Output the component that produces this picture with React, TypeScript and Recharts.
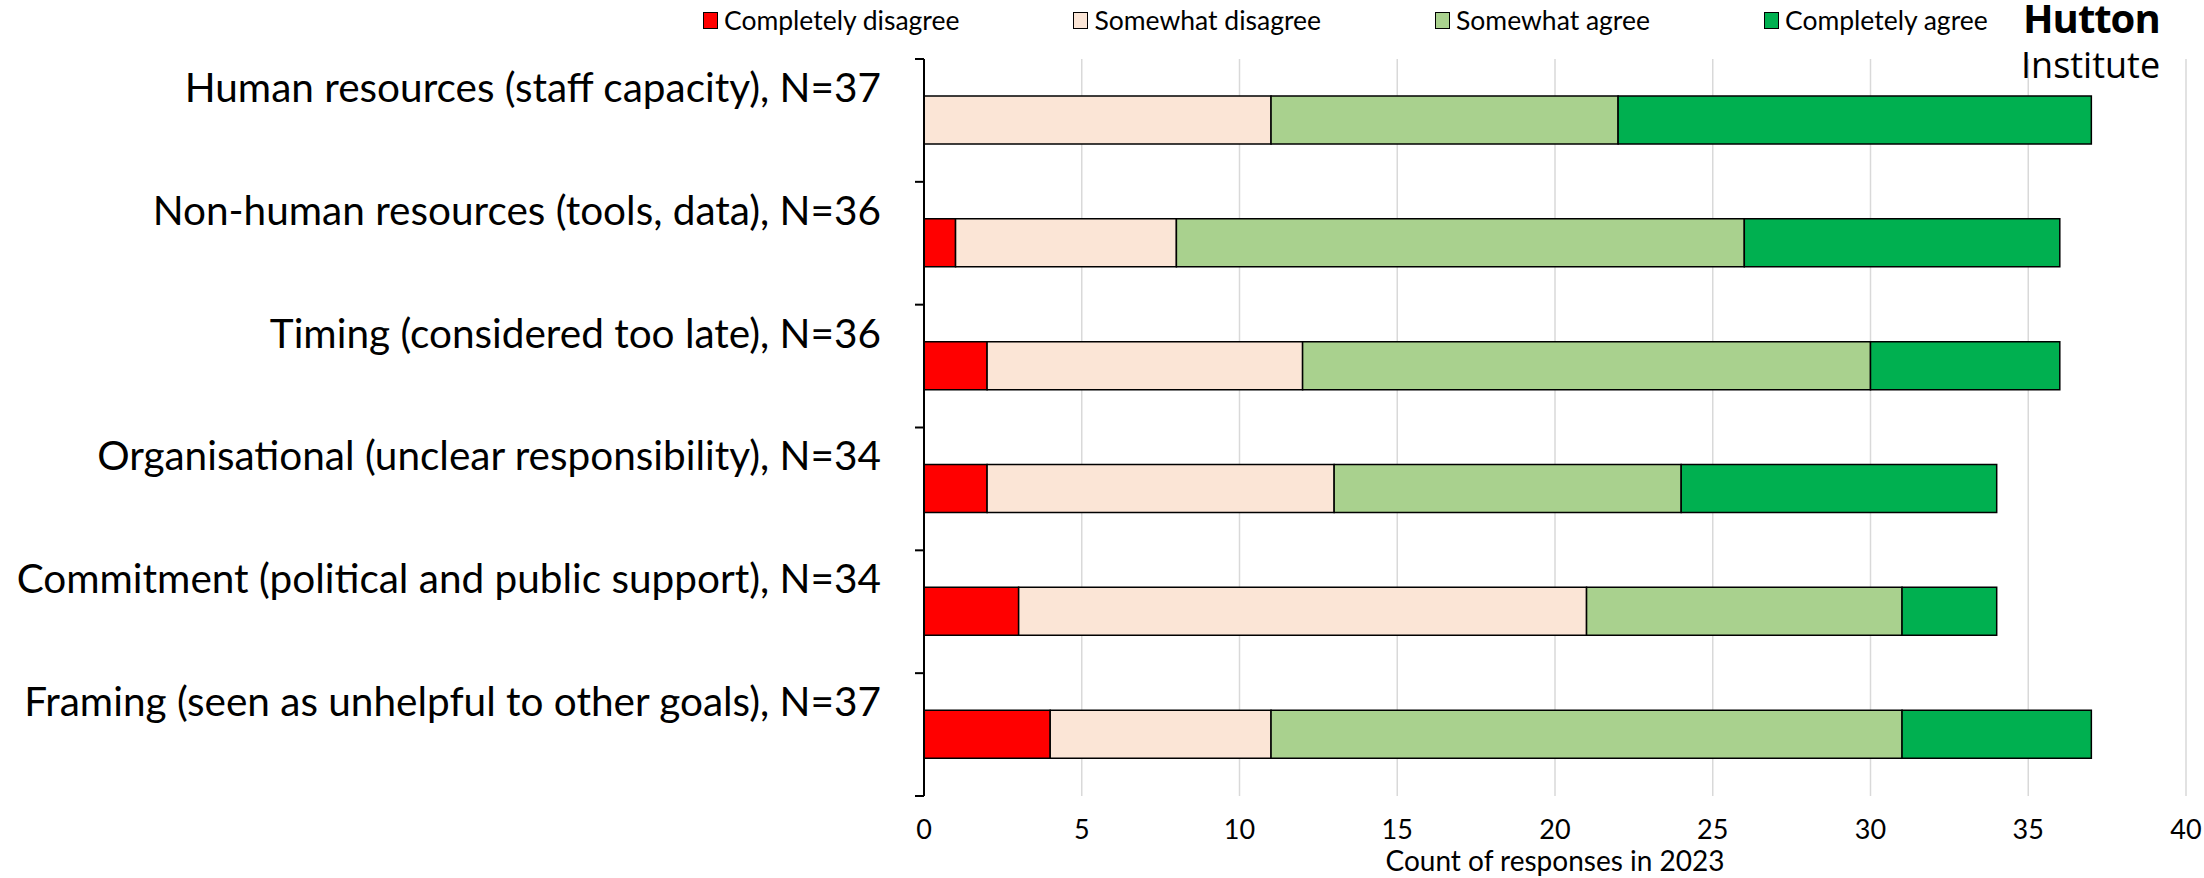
import { BarChart, Bar, XAxis, YAxis, CartesianGrid, Label } from "recharts";

const categories = [
  "Human resources (staff capacity), N=37",
  "Non-human resources (tools, data), N=36",
  "Timing (considered too late), N=36",
  "Organisational (unclear responsibility), N=34",
  "Commitment (political and public support), N=34",
  "Framing (seen as unhelpful to other goals), N=37",
];

const completelyDisagree = [0, 1, 2, 2, 3, 4];
const somewhatDisagree = [11, 7, 10, 11, 18, 7];
const somewhatAgree = [11, 18, 18, 11, 10, 20];
const completelyAgree = [15, 10, 6, 10, 3, 6];

const seriesKeys = ["cd", "sd", "sa", "ca"];
const seriesNames = ["Completely disagree", "Somewhat disagree", "Somewhat agree", "Completely agree"];
const seriesColors = ["#FF0000", "#FBE5D6", "#A9D18E", "#00B050"];

const xTicks = [0, 5, 10, 15, 20, 25, 30, 35, 40];

const data = categories.map((name, i) => ({
  name,
  cd: completelyDisagree[i],
  sd: somewhatDisagree[i],
  sa: somewhatAgree[i],
  ca: completelyAgree[i],
}));

const FONT = "Lato, 'Open Sans', sans-serif";

// Excel puts the category ticks between bands and the labels sit a bit above the bar
function CategoryTick(props: any) {
  const { x, y, payload, index, visibleTicksCount } = props;
  const half = payload?.offset ?? 61.4;
  const axisX = x + 43;
  return (
    <g>
      <line x1={axisX - 9} x2={axisX} y1={y - half} y2={y - half} stroke="#000" strokeWidth={2} />
      {index === visibleTicksCount - 1 && (
        <line x1={axisX - 9} x2={axisX} y1={y + half} y2={y + half} stroke="#000" strokeWidth={2} />
      )}
      <text
        x={x}
        y={y - 34}
        textAnchor="end"
        dominantBaseline="central"
        fontFamily={FONT}
        fontSize={40.5}
        fill="#000"
      >
        {payload.value}
      </text>
    </g>
  );
}

export default function App() {
  return (
    <div style={{ position: "relative", width: 2204, height: 878, background: "#fff" }}>
      <style>{"body{margin:0}"}</style>
      <BarChart
        width={2204}
        height={878}
        data={data}
        layout="vertical"
        margin={{ top: 59, right: 18, bottom: 0, left: 0 }}
        barSize={48}
      >
        <CartesianGrid horizontal={false} stroke="#D9D9D9" strokeWidth={1.5} />
        <XAxis
          type="number"
          domain={[0, 40]}
          ticks={xTicks}
          axisLine={false}
          tickLine={false}
          tickMargin={18}
          height={82}
          tick={{ fontSize: 27, fontFamily: FONT, fill: "#000" }}
        >
          <Label
            value="Count of responses in 2023"
            position="insideBottom"
            offset={7}
            style={{ fontSize: 28, fontFamily: FONT, fill: "#000" }}
          />
        </XAxis>
        <YAxis
          type="category"
          dataKey="name"
          width={924}
          axisLine={{ stroke: "#000", strokeWidth: 2 }}
          tickLine={false}
          tickSize={8}
          tickMargin={35}
          interval={0}
          tick={<CategoryTick />}
        />
        {seriesKeys.map((k, i) => (
          <Bar
            key={k}
            dataKey={k}
            name={seriesNames[i]}
            stackId="a"
            fill={seriesColors[i]}
            stroke="#000"
            strokeWidth={1.5}
            isAnimationActive={false}
          />
        ))}
      </BarChart>

      <div
        style={{
          position: "absolute",
          left: 703,
          top: 5,
          display: "flex",
          gap: 114,
          fontFamily: FONT,
          fontSize: 26.5,
          lineHeight: "30px",
          color: "#000",
        }}
      >
        {seriesNames.map((n, i) => (
          <div key={n} style={{ display: "flex", alignItems: "center" }}>
            <span
              style={{
                width: 13,
                height: 15,
                background: seriesColors[i],
                border: "1.5px solid #000",
                marginRight: 6,
                display: "inline-block",
              }}
            />
            <span>{n}</span>
          </div>
        ))}
      </div>

      <svg style={{ position: "absolute", left: 0, top: 0 }} width={2204} height={90}>
        <text x={2023} y={33} fontFamily="'Open Sans', sans-serif" fontWeight={700} fontSize={40} letterSpacing={-1} fill="#000">
          Hutton
        </text>
        <text x={2021} y={78} fontFamily="'Open Sans', sans-serif" fontSize={36} fill="#000">
          Institute
        </text>
      </svg>
    </div>
  );
}
